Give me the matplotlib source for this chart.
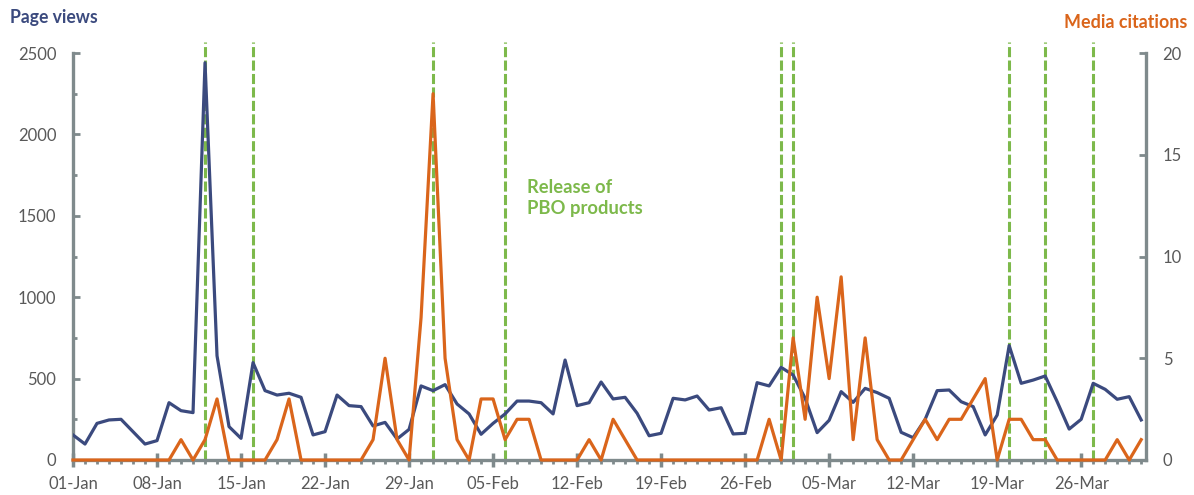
import matplotlib
matplotlib.use("Agg")
import matplotlib.pyplot as plt
import matplotlib.dates as mdates
from matplotlib.ticker import MultipleLocator
import pandas as pd

# Daily page views and media citations, 01-Jan to 31-Mar
dates = pd.date_range("2018-01-01", "2018-03-31", freq="D")

page_views = [154, 98, 225, 246, 250, 174, 98, 119, 352, 303,
              291, 2440, 640, 205, 133, 598, 426, 399, 410, 385,
              154, 174, 399, 334, 328, 209, 231, 129, 188, 455,
              426, 463, 344, 283, 158, 225, 283, 362, 362, 352,
              283, 614, 334, 352, 479, 375, 385, 287, 149, 164,
              379, 369, 393, 307, 321, 160, 164, 475, 455, 569,
              522, 379, 168, 244, 420, 354, 440, 414, 379, 170,
              137, 250, 426, 430, 358, 328, 154, 276, 703, 471,
              491, 516, 358, 190, 250, 471, 434, 373, 389, 246]

media_citations = [0, 0, 0, 0, 0, 0, 0, 0, 0, 1,
                   0, 1, 3, 0, 0, 0, 0, 1, 3, 0,
                   0, 0, 0, 0, 0, 1, 5, 1, 0, 7,
                   18, 5, 1, 0, 3, 3, 1, 2, 2, 0,
                   0, 0, 0, 1, 0, 2, 1, 0, 0, 0,
                   0, 0, 0, 0, 0, 0, 0, 0, 2, 0,
                   6, 2, 8, 4, 9, 1, 6, 1, 0, 0,
                   1, 2, 1, 2, 2, 3, 4, 0, 2, 2,
                   1, 1, 0, 0, 0, 0, 0, 1, 0, 1]

release_dates = ["2018-01-12", "2018-01-16", "2018-01-31", "2018-02-06",
                 "2018-03-01", "2018-03-02", "2018-03-20", "2018-03-23",
                 "2018-03-27"]

blue = "#3B4A7E"
orange = "#DA651B"
green = "#7DB94B"
grey = "#7F8A8C"
label_grey = "#595959"

plt.rcParams["font.family"] = ["Lato", "DejaVu Sans"]

fig = plt.figure(figsize=(11.94, 4.95), dpi=100)
ax1 = fig.add_axes([73 / 1194, 35 / 495, (1146 - 73) / 1194, (460 - 53) / 495])
ax2 = ax1.twinx()

# release markers
for d in release_dates:
    ax1.axvline(pd.Timestamp(d), ymin=0, ymax=1.027, color=green, lw=2.2,
                linestyle=(0, (3.3, 1.1)), clip_on=False, zorder=1)

ax1.plot(dates, page_views, color=blue, lw=2.3, zorder=3)
ax2.plot(dates, media_citations, color=orange, lw=2.3, clip_on=False, zorder=3)

ax1.set_ylim(0, 2500)
ax2.set_ylim(0, 20)
ax1.set_xlim(dates[0], dates[0] + pd.Timedelta(days=89.4))

ax1.yaxis.set_major_locator(MultipleLocator(500))
ax1.yaxis.set_minor_locator(MultipleLocator(250))
ax2.yaxis.set_major_locator(MultipleLocator(5))

ax1.set_xticks(dates[::7])
ax1.xaxis.set_minor_locator(mdates.DayLocator())
ax1.xaxis.set_major_formatter(mdates.DateFormatter("%d-%b"))

for ax in (ax1, ax2):
    for s in ax.spines.values():
        s.set_visible(False)
ax1.spines["left"].set_visible(True)
ax1.spines["bottom"].set_visible(True)
ax2.spines["right"].set_visible(True)
for s in (ax1.spines["left"], ax1.spines["bottom"], ax2.spines["right"]):
    s.set_color(grey)
    s.set_linewidth(2.4)

ax1.tick_params(axis="y", which="major", direction="in", length=5, width=2,
                color=grey, labelcolor=label_grey, labelsize=12, pad=12)
ax1.tick_params(axis="y", which="minor", direction="in", length=3, width=2, color=grey)
ax2.tick_params(axis="y", which="major", direction="in", length=5, width=2,
                color=grey, labelcolor=label_grey, labelsize=12, pad=12)
ax1.tick_params(axis="x", which="major", direction="inout", length=10, width=2.5,
                color=grey, labelcolor=label_grey, labelsize=12, pad=6.5)
ax1.tick_params(axis="x", which="minor", direction="out", length=3, width=2, color=grey)

fig.text(10 / 1194, 1 - 18 / 495, "Page views", color=blue, fontsize=12.7,
         fontweight="bold", ha="left", va="center")
fig.text(1187 / 1194, 1 - 22 / 495, "Media citations", color=orange, fontsize=12.9,
         fontweight="bold", ha="right", va="center")
ax1.text(pd.Timestamp("2018-02-07") + pd.Timedelta(hours=19), 1610,
         "Release of\nPBO products", color=green, fontsize=13.2,
         fontweight="bold", ha="left", va="center", linespacing=1.3)

fig.savefig("out.png", dpi=100)
